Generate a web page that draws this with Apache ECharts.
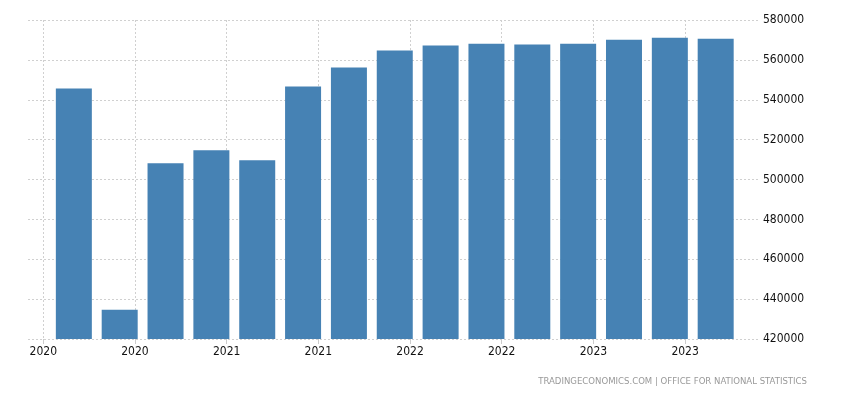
<!DOCTYPE html>
<html>
<head>
<meta charset="utf-8">
<script src="https://cdn.jsdelivr.net/npm/echarts@6/dist/echarts.min.js"></script>
<style>
html,body{margin:0;padding:0;background:#fff;}
#chart{width:850px;height:400px;}
</style>
</head>
<body>
<div id="chart"></div>
<script>
// Quarterly periods (month in which each bar is plotted)
const periods = ['2020-03','2020-06','2020-09','2020-12','2021-03','2021-06','2021-09','2021-12',
                 '2022-03','2022-06','2022-09','2022-12','2023-03','2023-06','2023-09'];
const values = [545650, 434700, 508150, 514650, 509650, 546650, 556150, 564650,
                567150, 568150, 567650, 568150, 570150, 571150, 570650];
// X tick positions (month offset from Jan 2020) and their labels
const xTickMonths = [0, 6, 12, 18, 24, 30, 36, 42];
const xTickLabels = ['2020','2020','2021','2021','2022','2022','2023','2023'];
const yTicks = [420000, 440000, 460000, 480000, 500000, 520000, 540000, 560000, 580000];

function monthOffset(p) {
  const [y, m] = p.split('-').map(Number);
  return (y - 2020) * 12 + (m - 1);
}
const seriesData = periods.map((p, i) => [monthOffset(p), values[i]]);

const FONT = "'Liberation Sans Narrow', 'DejaVu Sans Condensed', 'Liberation Sans', sans-serif";
const chart = echarts.init(document.getElementById('chart'), null, {renderer: 'canvas'});
chart.setOption({
  animation: false,
  backgroundColor: '#fff',
  grid: {left: 28, right: 90, top: 20, bottom: 61, containLabel: false},
  xAxis: {
    type: 'value',
    min: -1,
    max: 46.9,
    axisLine: {show: false},
    axisTick: {show: true, length: 5, customValues: xTickMonths, lineStyle: {color: '#cccccc'}},
    axisLabel: {
      customValues: xTickMonths,
      margin: 7,
      fontFamily: FONT, fontSize: 12, color: '#111',
      formatter: v => xTickLabels[xTickMonths.indexOf(v)] || ''
    },
    splitLine: {show: true, lineStyle: {color: '#d0d0d0', type: [2, 2], width: 1}}
  },
  yAxis: {
    type: 'value',
    position: 'right',
    min: yTicks[0],
    max: yTicks[yTicks.length - 1],
    interval: 20000,
    axisLine: {show: false},
    axisTick: {show: false},
    axisLabel: {margin: 3, fontFamily: FONT, fontSize: 12, color: '#111', formatter: v => String(v)},
    splitLine: {show: true, lineStyle: {color: '#d0d0d0', type: [2, 2], width: 1}}
  },
  series: [{
    type: 'bar',
    data: seriesData,
    barWidth: 36,
    itemStyle: {color: '#4682b4'}
  }],
  graphic: [{
    type: 'text',
    right: 43,
    top: 377,
    style: {
      text: 'TRADINGECONOMICS.COM | OFFICE FOR NATIONAL STATISTICS',
      fontFamily: FONT, fontSize: 9.5, fill: '#999'
    }
  }]
});
</script>
</body>
</html>
